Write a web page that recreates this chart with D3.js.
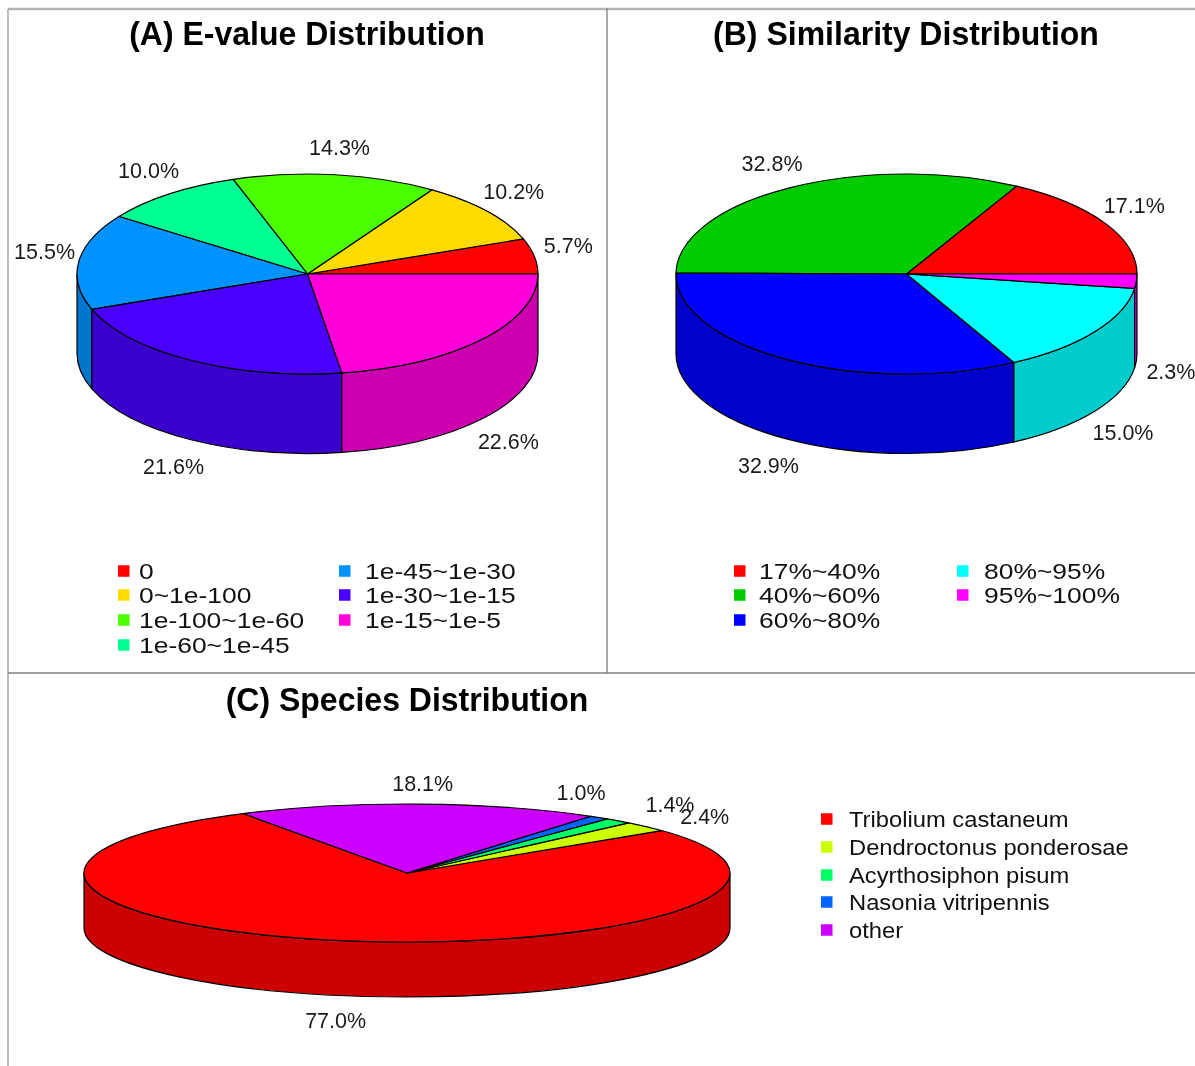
<!DOCTYPE html>
<html>
<head>
<meta charset="utf-8">
<script src="https://cdn.jsdelivr.net/npm/d3@7"></script>
<style>
  html, body { margin: 0; padding: 0; background: #fff; }
  svg { display: block; filter: blur(0.4px); font-family: "Liberation Sans", Arial, sans-serif; }
</style>
</head>
<body>
<script>
// values, in percent
const evalueCategories = ["0", "0~1e-100", "1e-100~1e-60", "1e-60~1e-45", "1e-45~1e-30", "1e-30~1e-15", "1e-15~1e-5"];
const evalueValues = [5.7, 10.2, 14.3, 10.0, 15.5, 21.6, 22.6];
const evalueColors = ["#FF0000", "#FFDB00", "#49FF00", "#00FF92", "#0092FF", "#4900FF", "#FF00DB"];

const similarityCategories = ["17%~40%", "40%~60%", "60%~80%", "80%~95%", "95%~100%"];
const similarityValues = [17.1, 32.8, 32.9, 15.0, 2.3];
const similarityColors = ["#FF0000", "#00CC00", "#0000FF", "#00FFFF", "#FF00FF"];

const speciesCategories = ["Tribolium castaneum", "Dendroctonus ponderosae", "Acyrthosiphon pisum", "Nasonia vitripennis", "other"];
const speciesValues = [77.0, 2.4, 1.4, 1.0, 18.1];
const speciesColors = ["#FF0000", "#CCFF00", "#00FF66", "#0066FF", "#CC00FF"];

const width = 1195;
const height = 1066;

const svg = d3.select("body").append("svg")
  .attr("width", width)
  .attr("height", height);

// panel frame
const frame = [
  [8, 9, width, 9, "#b4b4b4", 2.5],
  [8, 9, 8, height, "#a8a8a8", 1.5],
  [607, 8, 607, 673, "#8c8c8c", 1.5],
  [8, 673, width, 673, "#808080", 1.5]
];
svg.selectAll(".frame")
  .data(frame)
  .enter().append("line")
  .attr("class", "frame")
  .attr("x1", d => d[0])
  .attr("y1", d => d[1])
  .attr("x2", d => d[2])
  .attr("y2", d => d[3])
  .style("stroke", d => d[4])
  .style("stroke-width", d => d[5]);

function drawTitle(text, x, y) {
  svg.append("text")
    .attr("transform", `translate(${x},${y}) scale(0.97,1)`)
    .attr("text-anchor", "middle")
    .style("font-size", "33px")
    .style("font-weight", "bold")
    .text(text);
}

// tilted pie: everything is drawn in circle space, then squashed by the group transform
function drawPie(opts) {
  const { values, colors, cx, cy, rx, ry, depth, startDeg, nudges } = opts;
  const squash = ry / rx;
  const start = Math.PI / 2 - startDeg * Math.PI / 180;

  const slices = d3.pie().sort(null)
    .startAngle(start)
    .endAngle(start - 2 * Math.PI)(values);

  const color = d3.scaleOrdinal().domain(d3.range(values.length)).range(colors);
  const arc = d3.arc().innerRadius(0).outerRadius(rx);

  const g = svg.append("g")
    .attr("transform", `translate(${cx},${cy}) scale(1,${squash})`);

  // side walls only where the rim faces the viewer (theta between pi and 2pi)
  const walls = [];
  slices.forEach((s, i) => {
    const t0 = Math.PI / 2 - s.startAngle;
    const t1 = Math.PI / 2 - s.endAngle;
    [1, 3].forEach(k => {
      const a = Math.max(t0, k * Math.PI);
      const b = Math.min(t1, (k + 1) * Math.PI);
      if (b > a) walls.push({ i, a, b });
    });
  });

  const drop = depth / squash;
  g.selectAll(".wall")
    .data(walls)
    .enter().append("path")
    .attr("class", "wall")
    .attr("d", d => {
      const p = d3.path();
      p.arc(0, 0, rx, -d.a, -d.b, true);
      p.arc(0, drop, rx, -d.b, -d.a, false);
      p.closePath();
      return p.toString();
    })
    .attr("fill", d => d3.rgb(color(d.i)).darker(0.6257))
    .attr("stroke", "#000")
    .attr("stroke-width", 1.2)
    .attr("vector-effect", "non-scaling-stroke");

  g.selectAll(".top")
    .data(slices)
    .enter().append("path")
    .attr("class", "top")
    .attr("d", arc)
    .attr("fill", (d, i) => color(i))
    .attr("stroke", "#000")
    .attr("stroke-width", 1.2)
    .attr("stroke-linejoin", "round")
    .attr("vector-effect", "non-scaling-stroke");

  // percent labels sit on a wider ellipse, lower ones are pushed below the wall
  svg.selectAll(null)
    .data(slices)
    .enter().append("text")
    .attr("text-anchor", "middle")
    .attr("dominant-baseline", "central")
    .style("font-size", "21.5px")
    .style("fill", "#1a1a1a")
    .attr("x", (d, i) => {
      const mid = Math.PI / 2 - (d.startAngle + d.endAngle) / 2;
      return cx + 1.15 * rx * Math.cos(mid) + (nudges ? nudges[i][0] : 0);
    })
    .attr("y", (d, i) => {
      const mid = Math.PI / 2 - (d.startAngle + d.endAngle) / 2;
      const sin = Math.sin(mid);
      const base = sin >= 0 ? cy - 1.2 * ry * sin - 6.5 : cy - 1.2 * ry * sin + depth + 10;
      return base + (nudges ? nudges[i][1] : 0);
    })
    .text(d => d.data.toFixed(1) + "%");
}

function drawLegend(opts) {
  const { categories, colors, columns, rows, stretch, size } = opts;
  const items = categories.map((name, i) => {
    let c = 0, r = i;
    while (r >= columns[c].count) { r -= columns[c].count; c += 1; }
    return { name, color: colors[i], column: columns[c], y: rows[r] };
  });

  svg.selectAll(null)
    .data(items)
    .enter().append("rect")
    .attr("x", d => d.column.swatch)
    .attr("y", d => d.y - 5.75)
    .attr("width", 11.5)
    .attr("height", 11.5)
    .attr("fill", d => d.color);

  svg.selectAll(null)
    .data(items)
    .enter().append("text")
    .attr("transform", d => `translate(${d.column.text},${d.y + 8}) scale(${stretch},1)`)
    .style("font-size", size + "px")
    .style("fill", "#111")
    .text(d => d.name);
}

drawTitle("(A) E-value Distribution", 307, 45);
drawPie({ values: evalueValues, colors: evalueColors, cx: 307.5, cy: 274, rx: 230.5, ry: 100, depth: 79.5, startDeg: 0 });
drawLegend({
  categories: evalueCategories, colors: evalueColors,
  columns: [{ swatch: 118, text: 139, count: 4 }, { swatch: 339, text: 365, count: 3 }],
  rows: [571, 595, 620, 645], stretch: 1.175, size: 22.5
});

drawTitle("(B) Similarity Distribution", 906, 45);
drawPie({ values: similarityValues, colors: similarityColors, cx: 906.5, cy: 274, rx: 230.5, ry: 100, depth: 79.5, startDeg: 0 });
drawLegend({
  categories: similarityCategories, colors: similarityColors,
  columns: [{ swatch: 734, text: 759, count: 3 }, { swatch: 957, text: 984, count: 2 }],
  rows: [571, 595, 620], stretch: 1.175, size: 22.5
});

drawTitle("(C) Species Distribution", 407, 711);
drawPie({
  values: speciesValues, colors: speciesColors, cx: 407, cy: 873, rx: 323, ry: 69, depth: 55, startDeg: 120.5,
  nudges: [[-2, 2], [23, 6], [20, 1], [-47, -7], [2, 0]]
});
drawLegend({
  categories: speciesCategories, colors: speciesColors,
  columns: [{ swatch: 821, text: 849, count: 5 }],
  rows: [819, 847, 875, 902, 930], stretch: 1.08, size: 22
});
</script>
</body>
</html>
